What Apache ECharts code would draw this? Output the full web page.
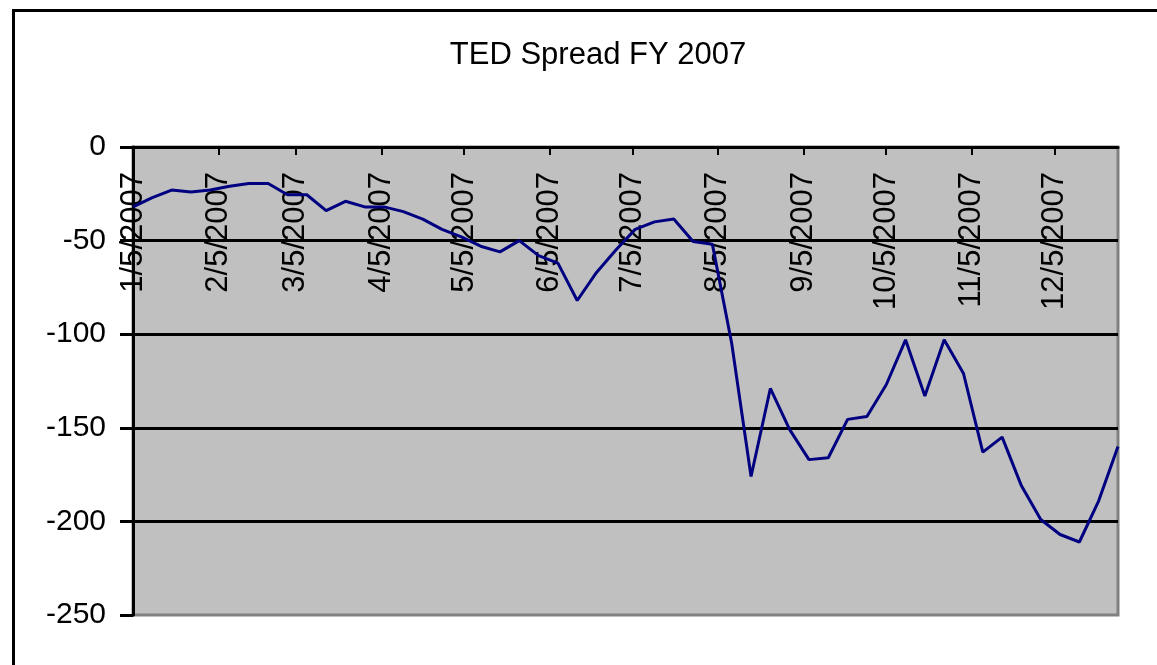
<!DOCTYPE html>
<html>
<head>
<meta charset="utf-8">
<title>TED Spread FY 2007</title>
<script src="https://cdn.jsdelivr.net/npm/echarts@6/dist/echarts.min.js"></script>
<style>
  html, body { margin: 0; padding: 0; background: #ffffff; }
  #chart { width: 1157px; height: 665px; }
</style>
</head>
<body>
<div id="chart"></div>
<script>
// Weekly observation dates (Fridays) for 2007
const weekDates = [
  '2007-01-05', '2007-01-12', '2007-01-19', '2007-01-26',
  '2007-02-02', '2007-02-09', '2007-02-16', '2007-02-23',
  '2007-03-02', '2007-03-09', '2007-03-16', '2007-03-23', '2007-03-30',
  '2007-04-06', '2007-04-13', '2007-04-20', '2007-04-27',
  '2007-05-04', '2007-05-11', '2007-05-18', '2007-05-25',
  '2007-06-01', '2007-06-08', '2007-06-15', '2007-06-22', '2007-06-29',
  '2007-07-06', '2007-07-13', '2007-07-20', '2007-07-27',
  '2007-08-03', '2007-08-10', '2007-08-17', '2007-08-24', '2007-08-31',
  '2007-09-07', '2007-09-14', '2007-09-21', '2007-09-28',
  '2007-10-05', '2007-10-12', '2007-10-19', '2007-10-26',
  '2007-11-02', '2007-11-09', '2007-11-16', '2007-11-23', '2007-11-30',
  '2007-12-07', '2007-12-14', '2007-12-21', '2007-12-28'
];

// TED spread readings (basis points, plotted as negative values)
const tedSpread = [
  -32, -27, -23, -24,
  -23, -21, -19.5, -19.5,
  -25.5, -25.5, -34, -29, -32,
  -32, -34.5, -38.5, -44,
  -48, -53, -56, -50,
  -58, -62, -82, -67, -55,
  -44, -40, -38.5, -50.5,
  -52, -105, -176, -129, -151,
  -167, -166, -145.5, -144,
  -127, -103, -133, -103,
  -121, -163, -155, -181, -199,
  -207, -211, -189, -160
];

// Month ticks along the date axis
const monthTickLabels = [
  '1/5/2007', '2/5/2007', '3/5/2007', '4/5/2007', '5/5/2007', '6/5/2007',
  '7/5/2007', '8/5/2007', '9/5/2007', '10/5/2007', '11/5/2007', '12/5/2007'
];

// Value axis ticks
const yMin = -250;
const yMax = 0;
const yStep = 50;

// Dates are placed on a linear day scale counted from the first observation
const DAY = 86400000;
const isoToUTC = s => {
  const [y, m, d] = s.split('-').map(Number);
  return Date.UTC(y, m - 1, d);
};
const mdyToUTC = s => {
  const [m, d, y] = s.split('/').map(Number);
  return Date.UTC(y, m - 1, d);
};
const origin = isoToUTC(weekDates[0]);
const toDay = t => Math.round((t - origin) / DAY);

const seriesData = weekDates.map((d, i) => [toDay(isoToUTC(d)), tedSpread[i]]);
const tickValues = monthTickLabels.map(s => toDay(mdyToUTC(s)));
const tickLabelByValue = {};
monthTickLabels.forEach((lbl, i) => { tickLabelByValue[tickValues[i]] = lbl; });

const FONT = '"Liberation Sans", Arial, sans-serif';

const chart = echarts.init(document.getElementById('chart'), null, { renderer: 'canvas' });

chart.setOption({
  backgroundColor: '#ffffff',
  animation: false,
  title: {
    text: 'TED Spread FY 2007',
    left: 593,
    top: 35,
    textAlign: 'center',
    textStyle: {
      fontFamily: FONT,
      fontSize: 31,
      fontWeight: 'normal',
      color: '#000000'
    }
  },
  graphic: [
    {
      type: 'rect',
      z: 100,
      silent: true,
      shape: { x: 13.5, y: 10.5, width: 1300, height: 800 },
      style: { fill: null, stroke: '#000000', lineWidth: 3 }
    }
  ],
  grid: {
    left: 133,
    top: 147,
    width: 985,
    height: 468,
    show: true,
    backgroundColor: '#c0c0c0',
    borderColor: '#808080',
    borderWidth: 3,
    containLabel: false,
    outerBoundsMode: 'none'
  },
  xAxis: {
    type: 'value',
    position: 'top',
    min: 0,
    max: toDay(isoToUTC(weekDates[weekDates.length - 1])),
    axisLine: {
      show: true,
      onZero: false,
      lineStyle: { color: '#000000', width: 3 }
    },
    axisTick: {
      show: true,
      inside: true,
      customValues: tickValues,
      length: 8,
      lineStyle: { color: '#000000', width: 2 }
    },
    axisLabel: {
      show: true,
      inside: true,
      customValues: tickValues,
      rotate: -90,
      margin: 25,
      fontFamily: FONT,
      fontSize: 31,
      color: '#000000',
      hideOverlap: false,
      showMinLabel: true,
      showMaxLabel: true,
      formatter: v => tickLabelByValue[v] || ''
    },
    splitLine: { show: false },
    minorTick: { show: false }
  },
  yAxis: {
    type: 'value',
    min: yMin,
    max: yMax,
    interval: yStep,
    axisLine: {
      show: true,
      lineStyle: { color: '#000000', width: 3 }
    },
    axisTick: {
      show: true,
      length: 13,
      lineStyle: { color: '#000000', width: 3 }
    },
    axisLabel: {
      margin: 27,
      fontFamily: FONT,
      fontSize: 30,
      color: '#000000'
    },
    splitLine: {
      show: true,
      showMinLine: false,
      lineStyle: { color: '#000000', width: 3 }
    }
  },
  series: [
    {
      name: 'TED Spread',
      type: 'line',
      data: seriesData,
      showSymbol: false,
      symbol: 'none',
      z: 5,
      lineStyle: { color: '#000080', width: 3 }
    }
  ]
});
</script>
</body>
</html>
